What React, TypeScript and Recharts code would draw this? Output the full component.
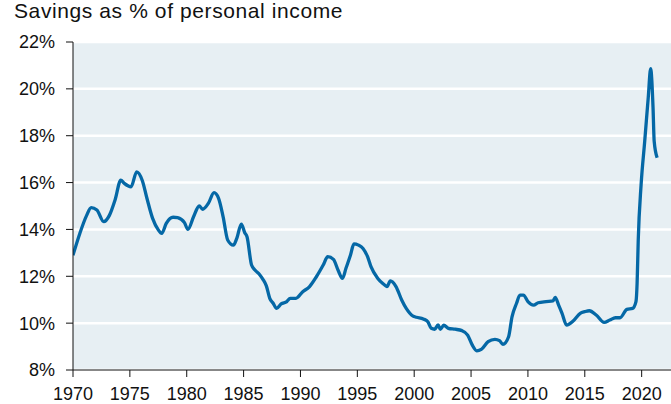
import { LineChart, Line, XAxis, YAxis, CartesianGrid } from "recharts";

// Personal saving rate (decimal years)
const years = [
  1970.0, 1970.6, 1971.2, 1971.6, 1972.1, 1972.7, 1973.2, 1973.7, 1974.2, 1974.5,
  1975.1, 1975.6, 1976.1, 1976.5, 1977.0, 1977.5, 1977.8, 1978.2, 1978.8, 1979.2,
  1979.8, 1980.1, 1980.6, 1981.1, 1981.4, 1981.9, 1982.4, 1982.8, 1983.2, 1983.6,
  1984.1, 1984.4, 1984.8, 1985.1, 1985.3, 1985.7, 1986.0, 1986.4, 1986.7, 1987.0,
  1987.3, 1987.6, 1987.9, 1988.3, 1988.8, 1989.1, 1989.6, 1990.2, 1990.8, 1991.4,
  1992.0, 1992.4, 1992.9, 1993.3, 1993.7, 1994.0, 1994.4, 1994.7, 1995.1, 1995.5,
  1995.9, 1996.2, 1996.8, 1997.3, 1997.6, 1997.9, 1998.4, 1998.9, 1999.3, 1999.9,
  2000.2, 2000.8, 2001.2, 2001.5, 2001.8, 2002.1, 2002.3, 2002.6, 2003.0, 2003.6,
  2004.2, 2004.7, 2005.1, 2005.5, 2005.9, 2006.5, 2007.1, 2007.5, 2007.8, 2008.3,
  2008.6, 2009.0, 2009.3, 2009.6, 2010.0, 2010.5, 2010.9, 2011.6, 2012.2, 2012.4,
  2012.7, 2013.0, 2013.4, 2014.0, 2014.6, 2015.0, 2015.4, 2016.0, 2016.7, 2017.2,
  2017.7, 2018.1, 2018.7, 2019.2, 2019.5, 2019.6, 2019.7, 2019.95, 2020.27, 2020.58,
  2020.79, 2021.0, 2021.1, 2021.36,
];

const savings = [
  12.9, 13.83, 14.6, 14.93, 14.83, 14.33, 14.6, 15.26, 16.1, 15.97,
  15.82, 16.46, 16.08, 15.33, 14.47, 13.98, 13.83, 14.26, 14.52, 14.5,
  14.29, 14.0, 14.54, 15.0, 14.86, 15.11, 15.57, 15.33, 14.54, 13.55,
  13.33, 13.62, 14.23, 13.86, 13.69, 12.48, 12.27, 12.08, 11.87, 11.59,
  11.06, 10.85, 10.63, 10.82, 10.92, 11.06, 11.06, 11.34, 11.56, 11.98,
  12.48, 12.84, 12.72, 12.27, 11.91, 12.34, 12.91, 13.38, 13.33, 13.19,
  12.84, 12.41, 11.91, 11.67, 11.56, 11.8, 11.56, 10.99, 10.63, 10.3,
  10.25, 10.18, 10.06, 9.78, 9.74, 9.92, 9.74, 9.91, 9.78, 9.74,
  9.68, 9.49, 9.07, 8.82, 8.88, 9.21, 9.31, 9.25, 9.1, 9.42,
  10.27, 10.85, 11.2, 11.2, 10.92, 10.77, 10.87, 10.92, 10.95, 11.1,
  10.77, 10.42, 9.92, 10.1, 10.42, 10.49, 10.53, 10.35, 10.03, 10.13,
  10.23, 10.23, 10.59, 10.63, 10.92, 11.7, 13.55, 15.9, 17.77, 19.64,
  20.86, 19.21, 17.77, 17.06,
];

const xTicks = [1970, 1975, 1980, 1985, 1990, 1995, 2000, 2005, 2010, 2015, 2020];
const yTicks = [8, 10, 12, 14, 16, 18, 20, 22];

const data = years.map((year, i) => ({ year, rate: savings[i] }));

const FONT = "'Liberation Sans', Arial, sans-serif";
const TICK = { fontSize: 18, fill: "#111", fontFamily: FONT };

export default function App() {
  return (
    <div style={{ position: "absolute", left: 0, top: 0, width: 671, height: 404, background: "#fff" }}>
      <div
        style={{
          position: "absolute",
          left: 14,
          top: -1,
          fontFamily: FONT,
          fontSize: 21,
          letterSpacing: 0.6,
          color: "#111",
          whiteSpace: "nowrap",
        }}
      >
        Savings as % of personal income
      </div>
      <LineChart width={671} height={404} data={data} margin={{ top: 42, right: 0, bottom: 0, left: 0 }}>
        <CartesianGrid vertical={false} stroke="#fff" strokeWidth={2.5} fill="#e7eff3" fillOpacity={1} />
        <XAxis
          dataKey="year"
          type="number"
          domain={[1970, 2022.58]}
          ticks={xTicks}
          allowDataOverflow
          height={34}
          tickSize={7}
          tickMargin={10}
          stroke="#111"
          tick={TICK}
        />
        <YAxis
          type="number"
          domain={[8, 22]}
          ticks={yTicks}
          width={73}
          tickSize={7}
          tickMargin={11}
          stroke="#111"
          tick={TICK}
          tickFormatter={(v: number) => `${v}%`}
        />
        <Line
          type="monotone"
          dataKey="rate"
          stroke="#0568a6"
          strokeWidth={3.3}
          dot={false}
          isAnimationActive={false}
        />
      </LineChart>
    </div>
  );
}
